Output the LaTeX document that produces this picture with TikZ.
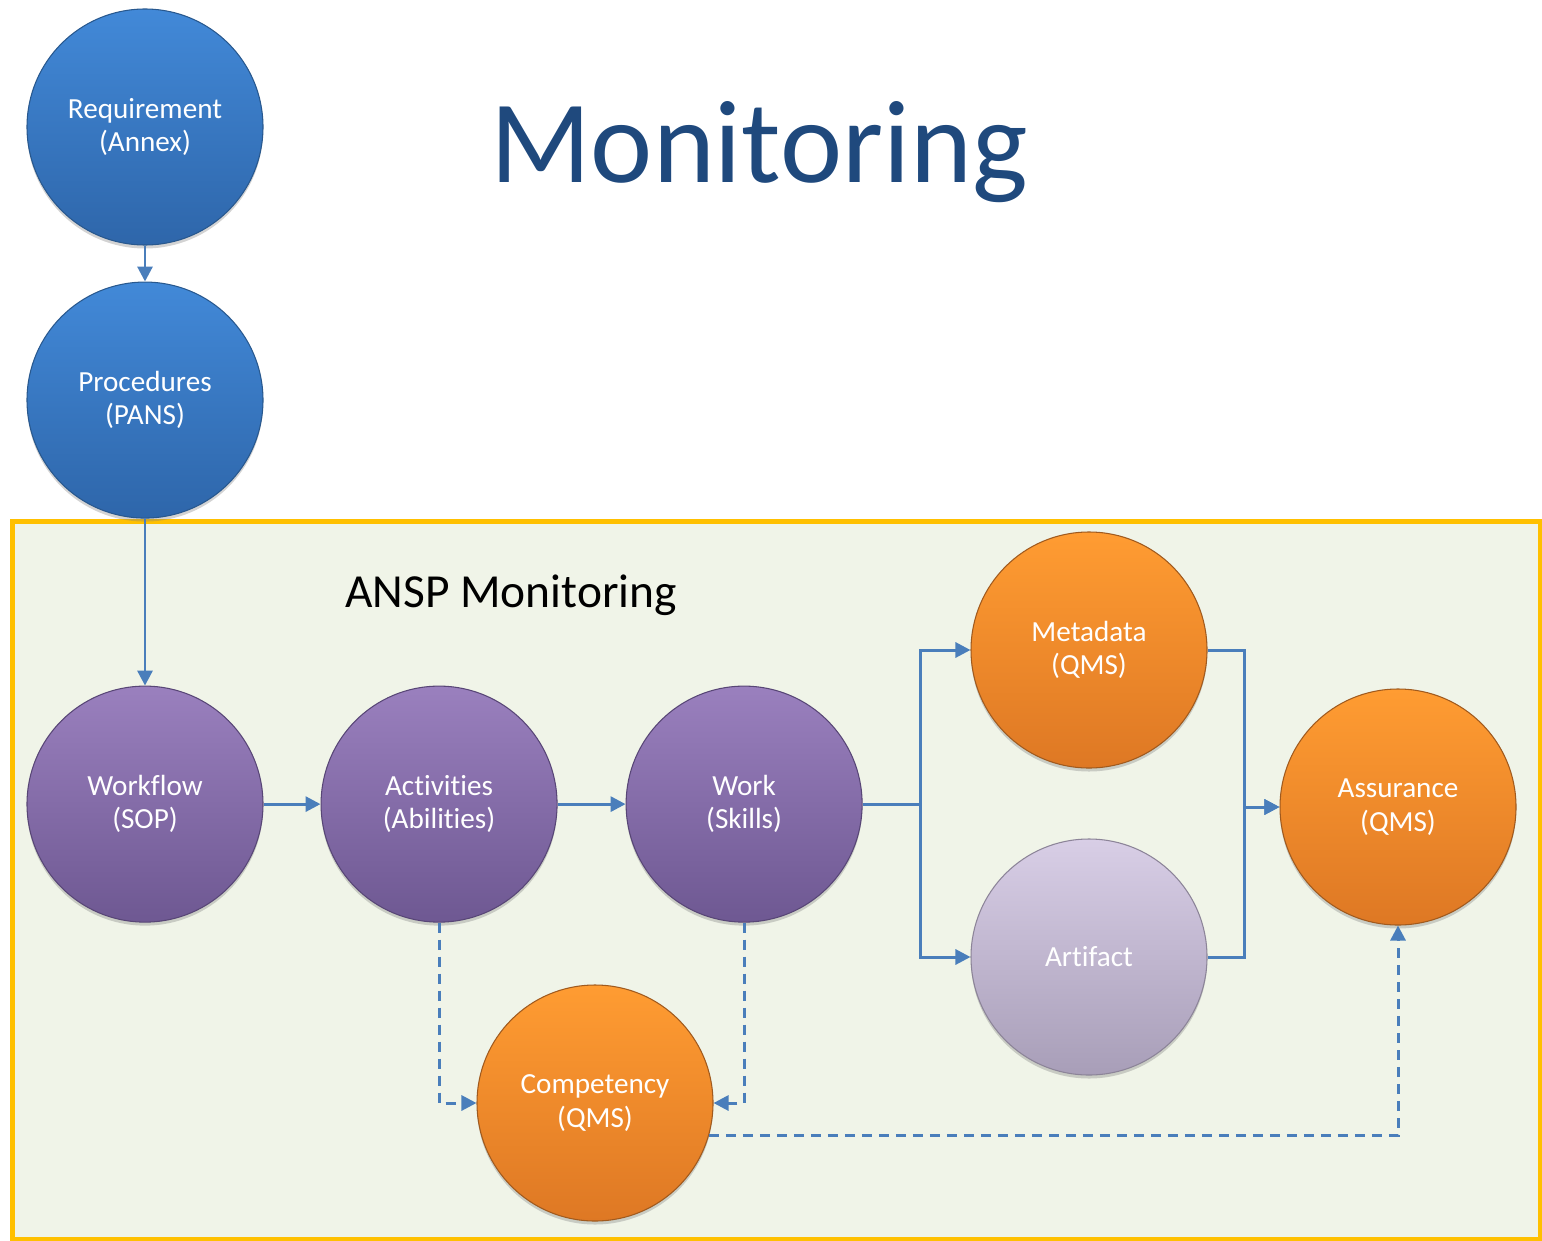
\documentclass[tikz,border=0pt]{standalone}
\usepackage{fontspec}
\setmainfont[Ligatures=NoCommon]{Carlito}
\usetikzlibrary{
    arrows.meta,
    positioning,
    shadows
}
\definecolor{linkblue}{RGB}{74,126,187}
\definecolor{titleblue}{RGB}{31,73,125}
\definecolor{boxyellow}{RGB}{255,192,0}
\definecolor{boxfill}{RGB}{240,244,232}
\tikzstyle{ball} = [
    circle,
    minimum size=4.72cm,
    inner sep=0pt,
    align=center,
    text=white,
    line width=0.6pt,
    font=\fontsize{16.6}{19}\selectfont,
    drop shadow={opacity=0.35, shadow xshift=0pt, shadow yshift=-0.07cm}
]
\tikzstyle{blueball} = [ball, top color={rgb,255:red,66;green,137;blue,216}, bottom color={rgb,255:red,46;green,102;blue,170}, draw={rgb,255:red,40;green,88;blue,142}]
\tikzstyle{purpleball} = [ball, top color={rgb,255:red,154;green,128;blue,190}, bottom color={rgb,255:red,110;green,88;blue,146}, draw={rgb,255:red,88;green,70;blue,118}]
\tikzstyle{orangeball} = [ball, top color={rgb,255:red,255;green,156;blue,50}, bottom color={rgb,255:red,222;green,120;blue,36}, draw={rgb,255:red,160;green,90;blue,30}]
\tikzstyle{lilacball} = [ball, top color={rgb,255:red,216;green,206;blue,230}, bottom color={rgb,255:red,168;green,158;blue,184}, draw={rgb,255:red,140;green,132;blue,152}]
\tikzstyle{link} = [
    -{Triangle[width=0.3cm,length=0.3cm]},
    line width=1.7pt,
    draw=linkblue
]
\tikzstyle{dashlink} = [link, dash pattern=on 0.2cm off 0.14cm]

\begin{document}
\begin{tikzpicture}
    \useasboundingbox (0,0) rectangle (30.84,-24.8);

    % ANSP frame
    \draw[line width=0.1cm, draw=boxyellow, fill=boxfill] (0.25,-10.42) rectangle (30.8,-24.78);

    % Titles
    \node[anchor=base, text=titleblue, font=\fontsize{67}{80}\selectfont] (title) at (15.18,-3.66) {Monitoring};
    \node[anchor=base, font=\fontsize{27}{32}\selectfont] (ansp) at (10.22,-12.14) {ANSP Monitoring};

    % Main flow
    \node[blueball] (req) at (2.9,-2.54) {Requirement\\(Annex)};
    \node[blueball, below=0.72cm of req] (proc) {Procedures\\(PANS)};
    \node[purpleball, below=3.34cm of proc] (wf) {Workflow\\(SOP)};
    \node[purpleball, right=1.14cm of wf] (act) {Activities\\(Abilities)};
    \node[purpleball, right=1.36cm of act] (work) {Work\\(Skills)};

    % QMS side
    \node[orangeball] (meta) at (21.78,-13.0) {Metadata\\(QMS)};
    \node[lilacball] (artifact) at (21.78,-19.14) {Artifact};
    \node[orangeball] (assur) at (27.96,-16.14) {Assurance\\(QMS)};
    \node[orangeball] (comp) at (11.9,-22.06) {Competency\\(QMS)};

    \draw[link] (req) -- (proc);
    \draw[link] (proc) -- (wf);
    \draw[link] (wf) -- (act);
    \draw[link] (act) -- (work);
    \draw[link] (work.east) -- ++(1.16,0) |- (meta.west);
    \draw[link] (work.east) -- ++(1.16,0) |- (artifact.west);
    \draw[link] (meta.east) -- ++(0.74,0) |- (assur.west);
    \draw[link] (artifact.east) -- ++(0.74,0) |- (assur.west);

    % Competency links
    \draw[dashlink] (act.south) |- (comp.west);
    \draw[dashlink] (work.south) |- (comp.east);
    \draw[dashlink] (comp.-16) -| (assur.south);
\end{tikzpicture}
\end{document}
